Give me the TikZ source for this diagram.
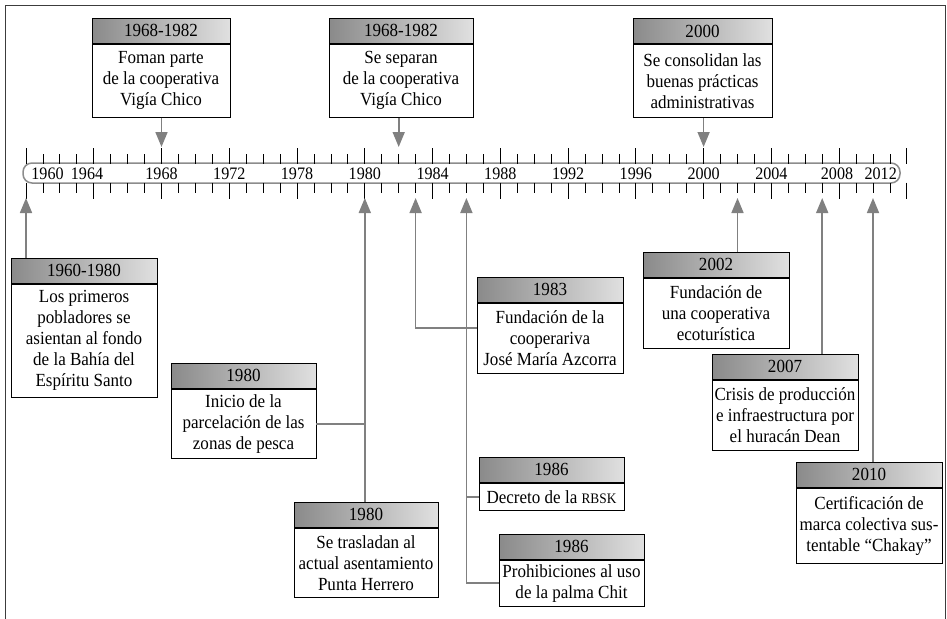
\documentclass[tikz,border=0pt]{standalone}
\usepackage{fontspec}
\setmainfont{Liberation Serif}[FakeStretch=0.92]
\usetikzlibrary{arrows.meta,calc}
\definecolor{conncol}{RGB}{128,128,128}
\definecolor{hdrL}{RGB}{138,138,138}
\definecolor{hdrR}{RGB}{224,224,224}
\definecolor{barcol}{RGB}{140,140,140}
\definecolor{framecol}{RGB}{60,60,60}
\begin{document}
\begin{tikzpicture}[x=1pt,y=-1pt,
  every node/.style={font=\fontsize{18.5}{21}\selectfont},
  hdr/.style={draw=black, line width=0.8pt, left color=hdrL, right color=hdrR,
    minimum height=25pt, inner sep=0pt, anchor=north},
  evbody/.style={draw=black, line width=0.8pt, fill=white, inner xsep=1pt,
    inner ysep=0pt, align=center, anchor=north},
  conn/.style={draw=conncol, line width=1.7pt},
  arr/.style={conn, -{Triangle[width=12pt,length=15pt]}},
  yearlbl/.style={inner sep=0pt, anchor=center, font=\fontsize{17.5}{20}\selectfont},
  tick/.style={draw=black, line width=0.8pt}
]
\useasboundingbox (0,0) rectangle (947,618);
% frame
\draw[framecol, line width=0.9pt] (5,625) -- (5,5) -- (945,5) -- (945,625);

% timeline bar
\node[draw=barcol, line width=1.5pt, rounded corners=9pt, fill=white,
  minimum width=877pt, minimum height=20pt, inner sep=0pt] (bar) at (461.5,173) {};
\foreach \i in {0,...,52}{
  \pgfmathsetmacro\xx{26+\i*16.94}
  \pgfmathtruncatemacro\m{mod(\i,4)}
  \ifnum\m=0
    \draw[tick] (\xx,148) -- (\xx,163.5);
    \draw[tick] (\xx,182.5) -- (\xx,199);
  \else
    \draw[tick] (\xx,154) -- (\xx,163.5);
    \draw[tick] (\xx,182.5) -- (\xx,193);
  \fi
}
% year labels
\foreach \x/\y in {47.5/1960, 87/1964, 161.5/1968, 229.3/1972, 297/1978, 364.8/1980,
  432.6/1984, 500.3/1988, 568.1/1992, 635.8/1996, 703.6/2000, 771.4/2004,
  837/2008, 880.7/2012}{
  \node[yearlbl] (y\y) at (\x,174) {\y};
}

% arrow tip coordinates
\coordinate (t1968) at (161.5,147);
\coordinate (t1982) at (398.7,147);
\coordinate (t2000) at (703.6,147);
\coordinate (t1960) at (26,198);
\coordinate (t1980) at (364.8,198);
\coordinate (t1983) at (415.6,198);
\coordinate (t1986) at (466.4,198);
\coordinate (t2002) at (737.5,198);
\coordinate (t2007) at (822.2,198);
\coordinate (t2010) at (873,198);

% top boxes
\node[hdr, minimum width=138pt] (h1) at (161,18) {1968-1982};
\node[evbody, minimum width=138pt, minimum height=73pt] (b1) at (h1.south)
  {Foman parte\\de la cooperativa\\Vigía Chico};
\node[hdr, minimum width=144pt] (h2) at (401,18) {1968-1982};
\node[evbody, minimum width=144pt, minimum height=73pt] (b2) at (h2.south)
  {Se separan\\de la cooperativa\\Vigía Chico};
\node[hdr, minimum width=139pt] (h3) at (702.5,18.5) {2000};
\node[evbody, minimum width=139pt, minimum height=73pt] (b3) at (h3.south)
  {Se consolidan las\\buenas prácticas\\administrativas};

% bottom boxes
\node[hdr, minimum width=146pt] (hA) at (84,258) {1960-1980};
\node[evbody, minimum width=146pt, minimum height=113pt] (bA) at (hA.south)
  {Los primeros\\pobladores se\\asientan al fondo\\de la Bahía del\\Espíritu Santo};
\node[hdr, minimum width=145pt] (hB) at (243.5,363) {1980};
\node[evbody, minimum width=145pt, minimum height=69pt] (bB) at (hB.south)
  {Inicio de la\\parcelación de las\\zonas de pesca};
\node[hdr, minimum width=144pt] (hC) at (366,502) {1980};
\node[evbody, minimum width=144pt, minimum height=69pt] (bC) at (hC.south)
  {Se trasladan al\\actual asentamiento\\Punta Herrero};
\node[hdr, minimum width=146pt] (hD) at (550,277) {1983};
\node[evbody, minimum width=146pt, minimum height=70pt] (bD) at (hD.south)
  {Fundación de la\\cooperariva\\José María Azcorra};
\node[hdr, minimum width=146pt] (hE) at (716,252) {2002};
\node[evbody, minimum width=146pt, minimum height=70pt] (bE) at (hE.south)
  {Fundación de\\una cooperativa\\ecoturística};
\node[hdr, minimum width=146pt] (hF) at (785,354) {2007};
\node[evbody, minimum width=146pt, minimum height=70pt] (bF) at (hF.south)
  {Crisis de producción\\e infraestructura por\\el huracán Dean};
\node[hdr, minimum width=146pt] (hG) at (869,462) {2010};
\node[evbody, minimum width=146pt, minimum height=75pt] (bG) at (hG.south)
  {Certificación de\\marca colectiva sus-\\tentable “Chakay”};
\node[hdr, minimum width=145pt] (hH) at (551.5,457) {1986};
\node[evbody, minimum width=145pt, minimum height=27pt] (bH) at (hH.south)
  {Decreto de la {\fontsize{14.5}{14.5}\selectfont RBSK}};
\node[hdr, minimum width=145pt] (hI) at (571.5,534) {1986};
\node[evbody, minimum width=145pt, minimum height=46pt] (bI) at (hI.south)
  {Prohibiciones al uso\\de la palma Chit};

% connectors from top boxes
\draw[arr] (b1.south -| t1968) -- (t1968);
\draw[arr] (b2.south -| t1982) -- (t1982);
\draw[arr] (b3.south -| t2000) -- (t2000);

% connectors from bottom boxes
\draw[arr] (hA.north -| t1960) -- (t1960);
\draw[arr] (hC.north -| t1980) -- (t1980);
\draw[conn] (bB.east) -- (bB.east -| t1980);
\draw[arr] ([yshift=10pt]bD.west) -| (t1983);
\draw[arr] (bI.west) -| (t1986);
\draw[conn] (bH.west) -- (bH.west -| t1986);
\draw[arr] (hE.north -| t2002) -- (t2002);
\draw[arr] (hF.north -| t2007) -- (t2007);
\draw[arr] (hG.north -| t2010) -- (t2010);
\end{tikzpicture}
\end{document}
